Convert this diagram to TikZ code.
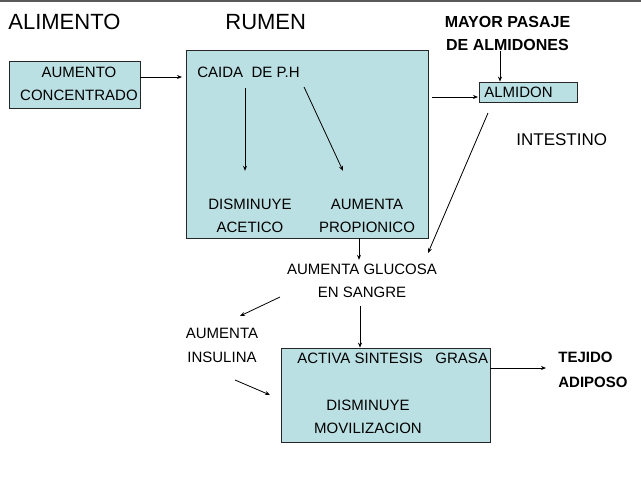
\documentclass[tikz,border=0pt]{standalone}
\usepackage{fontspec}
\setmainfont{Liberation Sans}
\usetikzlibrary{arrows.meta}

\definecolor{cajaazul}{RGB}{187,224,227}

\begin{document}
\begin{tikzpicture}[x=1pt, y=-1pt, line width=0.8pt,
    >={Stealth[length=5pt,width=4pt]},
    caja/.style={draw=black!85, fill=cajaazul, inner sep=0pt},
    txt/.style={inner sep=0pt, align=center, font=\fontsize{15}{23}\selectfont},
    titulo/.style={inner sep=0pt, anchor=west, font=\fontsize{22}{25}\selectfont},
    negrita/.style={inner sep=0pt, font=\bfseries\fontsize{16}{23}\selectfont}]
  \useasboundingbox (0,0) rectangle (641,491);
  \draw[black!65, line width=2pt] (0,1) -- (641,1);

  % titulos
  \node[titulo] (alimento) at (8,22)  {ALIMENTO};
  \node[titulo] (rumen)    at (225,22) {RUMEN};

  % cajas
  \node[caja, minimum width=131pt, minimum height=47pt]  (concentrado) at (74.5,84.5) {};
  \node[caja, minimum width=242pt, minimum height=188pt] (rumenbox)    at (307,144)  {};
  \node[caja, minimum width=98pt,  minimum height=20pt]  (almidonbox)  at (528,92)   {};
  \node[caja, minimum width=209pt, minimum height=94pt]  (grasabox)    at (385.5,395) {};

  % textos
  \node[txt]             (concentradotxt) at (79,83.5)  {AUMENTO\\CONCENTRADO};
  \node[txt, anchor=west] (caida)         at (197,72)   {CAIDA\ \ DE P.H};
  \node[txt]             (acetico)        at (250,216)  {DISMINUYE\\ACETICO};
  \node[txt]             (propionico)     at (367,216)  {AUMENTA\\PROPIONICO};
  \node[txt, anchor=west] (almidon)       at (484,92)   {ALMIDON};
  \node[negrita, align=center] (pasaje)   at (507.5,33.5) {MAYOR PASAJE\\DE ALMIDONES};
  \node[txt, anchor=west, font=\fontsize{17}{23}\selectfont] (intestino) at (516,140) {INTESTINO};
  \node[txt]             (glucosa)        at (362,281)  {AUMENTA GLUCOSA\\EN SANGRE};
  \node[txt, font=\fontsize{15}{24}\selectfont] (insulina) at (222,345) {AUMENTA\\INSULINA};
  \node[txt, anchor=west] (sintesis)      at (297,358)  {ACTIVA SINTESIS\ \ \ GRASA};
  \node[txt]             (movilizacion)   at (368,417)  {DISMINUYE\\MOVILIZACION};
  \node[negrita, align=left, anchor=west, font=\bfseries\fontsize{15}{25}\selectfont] (tejido) at (558,369.5) {TEJIDO\\ADIPOSO};

  % puntos libres de las flechas
  \coordinate (c1) at (140,77);   \coordinate (c2) at (182,77);
  \coordinate (r1) at (432,97);   \coordinate (a1) at (478,97);
  \coordinate (a2) at (488,113);  \coordinate (g1) at (428,253);
  \coordinate (g2) at (280,297);  \coordinate (i1) at (240,316);
  \coordinate (i2) at (235,380);  \coordinate (s1) at (270,395);

  \path[->] (c1) edge (c2)
            ([yshift=-10pt]caida.south -| 245,0) edge ([yshift=28pt]acetico.north -| 245,0)
            ([xshift=4pt,yshift=-15pt]caida.east) edge ([yshift=28pt]propionico.north -| 343,0)
            (r1) edge (a1)
            (pasaje.south -| 500,0) edge (almidonbox.north -| 500,0)
            (a2) edge (g1)
            (rumenbox.south -| 359,0) edge ([yshift=4pt]glucosa.north -| 359,0)
            (g2) edge (i1)
            ([yshift=-8pt]glucosa.south -| 360,0) edge (grasabox.north -| 360,0)
            (i2) edge (s1)
            (grasabox.east |- 0,368) edge (546,368)
        ;
\end{tikzpicture}
\end{document}
